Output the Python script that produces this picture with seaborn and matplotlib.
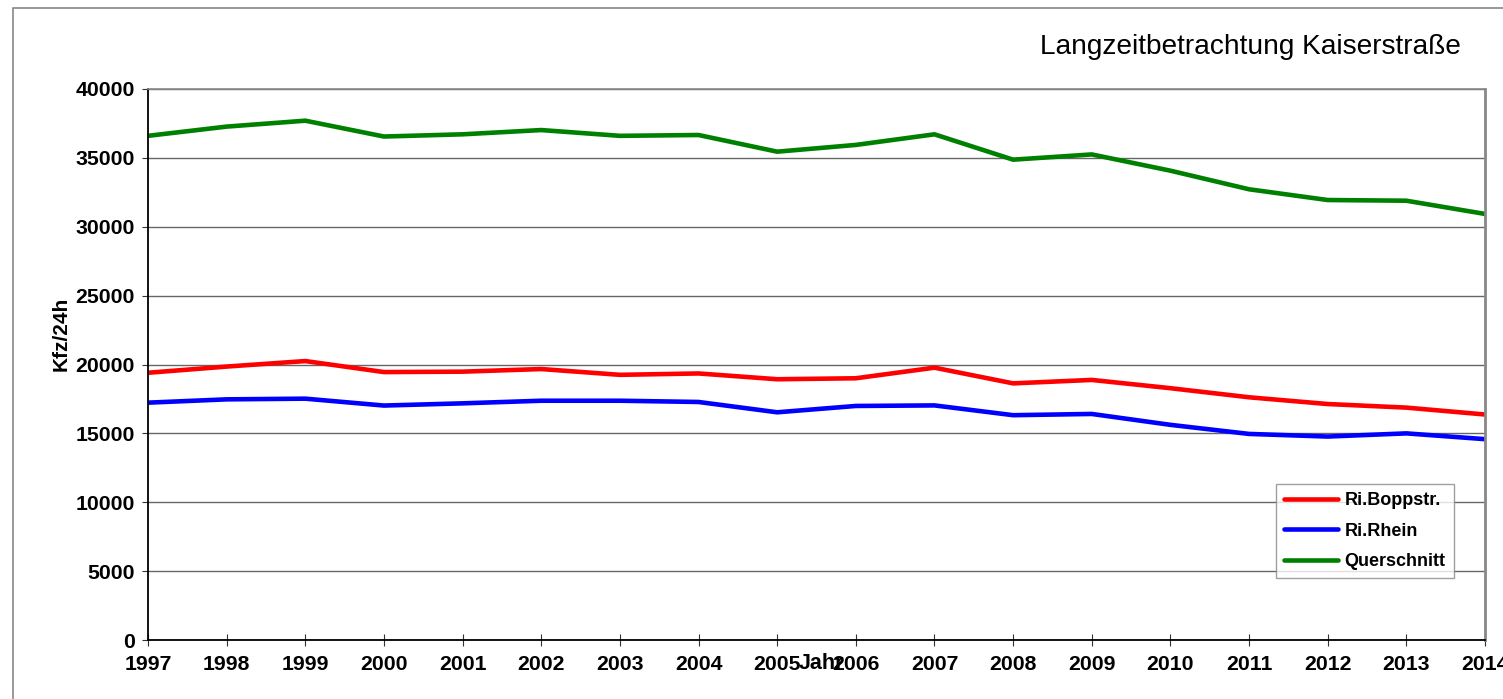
import pandas as pd
import matplotlib.pyplot as plt
import seaborn as sns
from matplotlib.patches import Rectangle

years = list(range(1997, 2015))
ri_boppstr = [19400, 19850, 20250, 19450, 19480, 19670, 19250, 19350, 18930, 19000,
              19770, 18630, 18880, 18280, 17620, 17130, 16870, 16370]
ri_rhein = [17230, 17470, 17520, 17020, 17180, 17370, 17370, 17280, 16530, 16990,
            17030, 16320, 16410, 15620, 14960, 14770, 15000, 14580]
querschnitt = [36600, 37270, 37700, 36550, 36710, 37020, 36600, 36660, 35450, 35940,
               36710, 34870, 35250, 34070, 32720, 31940, 31890, 30930]

series_names = ["Ri.Boppstr.", "Ri.Rhein", "Querschnitt"]
colors = {"Ri.Boppstr.": "#FF0000", "Ri.Rhein": "#0000FF", "Querschnitt": "#008000"}

df = pd.DataFrame({
    "Jahr": years * 3,
    "Kfz": ri_boppstr + ri_rhein + querschnitt,
    "Richtung": [n for n in series_names for _ in years],
})

sns.set_theme(style="white")
plt.rcParams["font.family"] = ["Liberation Sans", "DejaVu Sans"]
plt.rcParams["text.color"] = "black"
plt.rcParams["axes.labelcolor"] = "black"
plt.rcParams["xtick.color"] = "black"
plt.rcParams["ytick.color"] = "black"

fig = plt.figure(figsize=(15.03, 6.99), dpi=100)
ax = fig.add_axes([148 / 1503, 1 - 640 / 699, 1337 / 1503, 551 / 699])

sns.lineplot(data=df, x="Jahr", y="Kfz", hue="Richtung", hue_order=series_names,
             palette=colors, linewidth=3.3, ax=ax, legend=False)

ax.set_xlim(1997, 2014)
ax.set_ylim(0, 40000)
ax.set_xticks(years)
ax.set_yticks(range(0, 40001, 5000))
ax.grid(axis="y", color="#666666", linewidth=1)
ax.set_axisbelow(True)

for lab in ax.get_xticklabels() + ax.get_yticklabels():
    lab.set_fontweight("bold")
ax.tick_params(axis="x", direction="inout", length=9, width=0.8, color="#333333",
               labelsize=15.3, pad=6, bottom=True)
ax.tick_params(axis="y", direction="out", length=4.5, width=0.8, color="#333333",
               labelsize=15.3, pad=5, left=True)

ax.spines["left"].set_color("black")
ax.spines["left"].set_linewidth(1.3)
ax.spines["bottom"].set_color("black")
ax.spines["bottom"].set_linewidth(1.3)
ax.spines["top"].set_color("#888888")
ax.spines["top"].set_linewidth(1.2)
ax.spines["right"].set_color("#888888")
ax.spines["right"].set_linewidth(2)

ax.set_ylabel("Kfz/24h", fontsize=15, fontweight="bold")
ax.yaxis.set_label_coords(-0.058, 0.555)
ax.set_xlabel("Jahr", fontsize=15.5, fontweight="bold")
ax.xaxis.set_label_coords(0.504, -0.024)

handles = [plt.Line2D([], [], color=colors[n], linewidth=3.3) for n in series_names]
leg = ax.legend(handles, series_names, loc="upper left", bbox_to_anchor=(0.8437, 0.283),
                prop={"weight": "bold", "size": 13}, frameon=True, fancybox=False,
                handlelength=3.0, labelspacing=0.75, borderpad=0.45, handletextpad=0.35,
                borderaxespad=0)
leg.get_frame().set_edgecolor("#888888")
leg.get_frame().set_linewidth(1)

fig.text(1250 / 1503, 1 - 54 / 699, "Langzeitbetrachtung Kaiserstraße",
         fontsize=20.2, ha="center", va="baseline")

fig.patches.append(Rectangle((13 / 1503, -0.1), 1.2, 1.1 - 8 / 699, transform=fig.transFigure,
                             fill=False, edgecolor="#888888", linewidth=1.2))

fig.savefig("out.png", dpi=100)
